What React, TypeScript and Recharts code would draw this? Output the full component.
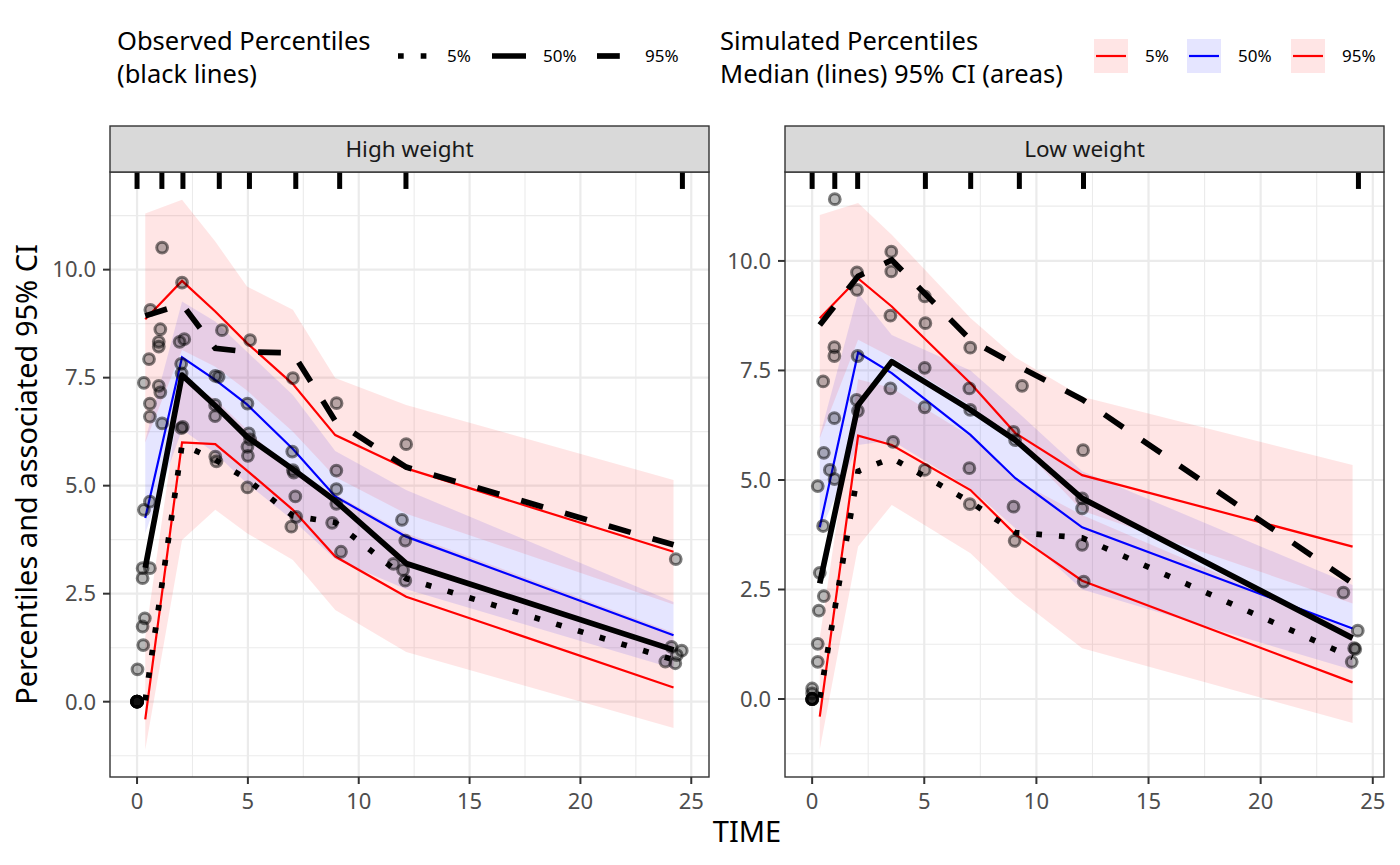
import React from 'react';
import {
  ComposedChart,
  XAxis,
  YAxis,
  Line,
  Area,
  Scatter,
  CartesianGrid,
  ReferenceLine,
} from 'recharts';

const FONT = '"Noto Sans", sans-serif';

const xBreaks = [0, 5, 10, 15, 20, 25];
const xMinor = [2.5, 7.5, 12.5, 17.5, 22.5];
const yBreaks = [0, 2.5, 5, 7.5, 10];
const yMinor = [-1.25, 1.25, 3.75, 6.25, 8.75, 11.25];

// High weight panel
const highTime = [0.37, 2.03, 3.53, 4.96, 7.03, 8.94, 12.14, 24.2];
const highSim5 = [-0.41, 6.0, 5.96, 5.35, 4.44, 3.36, 2.43, 0.33];
const highSim50 = [4.25, 7.97, 7.45, 6.88, 5.85, 4.75, 3.82, 1.54];
const highSim95 = [8.85, 9.74, 9.03, 8.3, 7.35, 6.17, 5.4, 3.47];
const highObs5 = [0.03, 5.95, 5.6, 5.15, 4.3, 4.15, 2.85, 0.97];
const highObs50 = [3.1, 7.56, 6.85, 6.13, 5.38, 4.65, 3.2, 1.2];
const highObs95 = [8.93, 9.2, 8.18, 8.1, 8.07, 6.5, 5.43, 3.63];
const highCi5Lo = [-1.11, 3.74, 4.44, 3.9, 3.28, 2.12, 1.15, -0.61];
const highCi5Hi = [1.5, 7.44, 7.0, 6.3, 5.3, 4.8, 3.9, 1.6];
const highCi50Lo = [3.9, 6.3, 5.75, 5.05, 4.2, 3.3, 2.6, 0.77];
const highCi50Hi = [6.05, 9.26, 8.8, 8.1, 7.1, 5.8, 4.9, 2.31];
const highCi95Lo = [6.0, 8.14, 7.75, 7.2, 6.25, 5.2, 4.35, 2.25];
const highCi95Hi = [11.3, 11.62, 10.65, 9.61, 9.07, 7.49, 6.87, 5.13];
const highRug = [0, 1.12, 2.07, 3.71, 5.07, 7.16, 9.14, 12.13, 24.6];
const highDvTime = [
  0, 0, 0, 0, 0, 0, 0, 0, 0.02, 0.28, 0.25, 0.35, 0.25, 0.25, 0.58, 0.31, 0.58,
  0.58, 0.58, 1.13, 0.31, 0.98, 1.05, 0.54, 0.98, 0.98, 1.05, 0.6, 1.13, 2.03,
  1.92, 2.13, 1.99, 2.01, 2.0, 2.06, 3.83, 3.53, 3.68, 3.52, 3.52, 3.53, 3.58,
  5.1, 4.98, 5.04, 5.1, 4.98, 5.0, 4.98, 7.03, 7.0, 7.03, 7.07, 7.14, 7.18, 6.96,
  9.0, 8.99, 8.99, 8.99, 8.8, 9.2, 12.14, 11.95, 12.1, 11.57, 12.0, 12.1, 24.3,
  24.11, 24.57, 24.35, 23.83, 24.28,
];
const highDv = [
  0, 0, 0, 0, 0, 0, 0, 0, 0.75, 1.31, 1.74, 1.93, 2.86, 3.09, 3.09, 4.44, 4.63,
  6.6, 6.9, 6.44, 7.38, 7.31, 7.16, 7.93, 8.22, 8.33, 8.62, 9.07, 10.51, 9.7,
  8.33, 8.39, 7.82, 7.6, 6.33, 6.36, 8.6, 7.54, 7.52, 6.87, 6.61, 5.67, 5.56,
  8.37, 6.9, 6.21, 6.07, 5.9, 5.69, 4.96, 7.49, 5.79, 5.36, 5.3, 4.75, 4.28, 4.05,
  6.91, 5.35, 4.92, 4.58, 4.14, 3.47, 5.96, 4.21, 3.73, 3.19, 3.05, 2.8, 3.3,
  1.27, 1.18, 1.08, 0.93, 0.89,
];

// Low weight panel
const lowTime = [0.34, 2.05, 3.55, 7.06, 9.06, 12.04, 24.1];
const lowSim5 = [-0.4, 6.01, 5.8, 4.77, 3.76, 2.7, 0.38];
const lowSim50 = [3.92, 7.91, 7.44, 6.03, 5.04, 3.92, 1.61];
const lowSim95 = [8.69, 9.6, 8.96, 7.21, 6.07, 5.11, 3.48];
const lowObs5 = [0.03, 5.2, 5.5, 4.5, 3.8, 3.68, 0.95];
const lowObs50 = [2.64, 6.71, 7.7, 6.6, 5.91, 4.58, 1.39];
const lowObs95 = [8.54, 9.65, 10.02, 8.2, 7.63, 6.84, 2.64];
const lowCi5Lo = [-1.15, 3.48, 4.43, 3.33, 2.34, 1.16, -0.55];
const lowCi5Hi = [1.4, 7.3, 7.1, 6.0, 5.0, 4.2, 1.55];
const lowCi50Lo = [3.8, 5.8, 5.9, 4.8, 3.9, 2.5, 0.66];
const lowCi50Hi = [6.0, 9.26, 8.31, 7.5, 6.6, 5.2, 2.6];
const lowCi95Lo = [5.95, 8.2, 7.8, 6.7, 5.9, 4.3, 2.18];
const lowCi95Hi = [11.05, 11.32, 10.6, 8.7, 7.8, 6.9, 5.34];
const lowRug = [0, 1.01, 2.03, 5.05, 7.07, 9.24, 12.1, 24.36];
const lowDvTime = [
  0, 0, 0, 0, 0, 0, 0, 0.25, 0.25, 0.3, 0.52, 0.34, 0.49, 0.25, 1.0, 0.79, 0.52,
  0.99, 0.49, 0.99, 0.99, 1.01, 2.0, 2.0, 2.03, 1.98, 2.04, 3.53, 3.53, 3.49,
  3.49, 3.61, 5.02, 5.05, 5.02, 5.02, 5.02, 7.05, 7.01, 7.05, 7.01, 7.03, 9.36,
  8.98, 9.05, 8.98, 9.03, 12.08, 12.04, 12.04, 12.04, 12.11, 23.69, 24.33, 24.17,
  24.22, 24.06,
];
const lowDv = [
  0, 0, 0, 0, 0, 0.13, 0.24, 0.85, 1.26, 2.02, 2.35, 2.88, 3.95, 4.86, 5.02, 5.23,
  5.62, 6.41, 7.25, 7.83, 8.03, 11.41, 9.74, 9.34, 7.83, 6.83, 6.58, 10.21, 9.76,
  8.75, 7.09, 5.87, 9.19, 8.58, 7.56, 6.66, 5.23, 8.02, 7.09, 6.6, 5.27, 4.45,
  7.15, 6.1, 5.91, 4.39, 3.61, 5.68, 4.58, 4.35, 3.52, 2.68, 2.43, 1.56, 1.16,
  1.14, 0.85,
];

function buildRows(time, s5, s50, s95, o5, o50, o95, c5l, c5h, c50l, c50h, c95l, c95h) {
  return time.map((t, i) => ({
    time: t,
    sim5: s5[i],
    sim50: s50[i],
    sim95: s95[i],
    obs5: o5[i],
    obs50: o50[i],
    obs95: o95[i],
    ci5: [c5l[i], c5h[i]],
    ci50: [c50l[i], c50h[i]],
    ci95: [c95l[i], c95h[i]],
  }));
}

const highRows = buildRows(
  highTime, highSim5, highSim50, highSim95, highObs5, highObs50, highObs95,
  highCi5Lo, highCi5Hi, highCi50Lo, highCi50Hi, highCi95Lo, highCi95Hi
);
const lowRows = buildRows(
  lowTime, lowSim5, lowSim50, lowSim95, lowObs5, lowObs50, lowObs95,
  lowCi5Lo, lowCi5Hi, lowCi50Lo, lowCi50Hi, lowCi95Lo, lowCi95Hi
);
const highPoints = highDvTime.map((t, i) => ({ time: t, dv: highDv[i] }));
const lowPoints = lowDvTime.map((t, i) => ({ time: t, dv: lowDv[i] }));

const dotShape = (p: any) => (
  <circle
    cx={p.cx}
    cy={p.cy}
    r={5.4}
    fill="rgba(0,0,0,0.28)"
    stroke="rgba(0,0,0,0.5)"
    strokeWidth={3}
  />
);

const tickStyle = { fill: '#4d4d4d', fontSize: 22, fontFamily: FONT };
const OBS_W = 5.7;

function Panel({ rows, points, rug, xDomain, yDomain, left }: any) {
  const rugEnd = yDomain[1] - (yDomain[1] - yDomain[0]) * 0.028;
  return (
    <div style={{ position: 'absolute', left, top: 172 }}>
      <ComposedChart
        width={720}
        height={645}
        data={rows}
        margin={{ top: 0, right: 11, bottom: 0, left: 0 }}
      >
        <CartesianGrid
          stroke="#ebebeb"
          strokeWidth={1.1}
          horizontalValues={yMinor}
          verticalValues={xMinor}
        />
        <CartesianGrid
          stroke="#ebebeb"
          strokeWidth={2.2}
          horizontalValues={yBreaks}
          verticalValues={xBreaks}
        />
        <XAxis
          type="number"
          dataKey="time"
          domain={xDomain}
          allowDataOverflow
          ticks={xBreaks}
          interval={0}
          height={40}
          axisLine={false}
          tickSize={7}
          tickMargin={9}
          tickLine={{ stroke: '#333333', strokeWidth: 2 }}
          tick={tickStyle}
        />
        <YAxis
          type="number"
          domain={yDomain}
          allowDataOverflow
          ticks={yBreaks}
          interval={0}
          width={110}
          axisLine={false}
          tickSize={7}
          tickMargin={7}
          tickLine={{ stroke: '#333333', strokeWidth: 2 }}
          tick={tickStyle}
          tickFormatter={(v: number) => v.toFixed(1)}
        />
        <Area type="linear" dataKey="ci5" stroke="none" fill="#ff0000" fillOpacity={0.1} dot={false} activeDot={false} isAnimationActive={false} />
        <Area type="linear" dataKey="ci50" stroke="none" fill="#0000ff" fillOpacity={0.1} dot={false} activeDot={false} isAnimationActive={false} />
        <Area type="linear" dataKey="ci95" stroke="none" fill="#ff0000" fillOpacity={0.1} dot={false} activeDot={false} isAnimationActive={false} />
        <Line type="linear" dataKey="sim5" stroke="#ff0000" strokeWidth={2.2} dot={false} activeDot={false} isAnimationActive={false} />
        <Line type="linear" dataKey="sim50" stroke="#0000ff" strokeWidth={2.2} dot={false} activeDot={false} isAnimationActive={false} />
        <Line type="linear" dataKey="sim95" stroke="#ff0000" strokeWidth={2.2} dot={false} activeDot={false} isAnimationActive={false} />
        <Scatter data={points} dataKey="dv" shape={dotShape} isAnimationActive={false} />
        <Line type="linear" dataKey="obs5" stroke="#000" strokeWidth={OBS_W} strokeDasharray="5.7 17" dot={false} activeDot={false} isAnimationActive={false} />
        <Line type="linear" dataKey="obs50" stroke="#000" strokeWidth={OBS_W} strokeLinejoin="round" dot={false} activeDot={false} isAnimationActive={false} />
        <Line type="linear" dataKey="obs95" stroke="#000" strokeWidth={OBS_W} strokeDasharray="22.8 22.8" dot={false} activeDot={false} isAnimationActive={false} />
        {rug.map((t: number) => (
          <ReferenceLine
            key={t}
            segment={[{ x: t, y: yDomain[1] }, { x: t, y: rugEnd }]}
            stroke="#000"
            strokeWidth={5}
            ifOverflow="visible"
          />
        ))}
      </ComposedChart>
    </div>
  );
}

export default function App() {
  return (
    <div
      style={{
        position: 'relative',
        width: 1400,
        height: 865,
        background: '#fff',
        fontFamily: FONT,
      }}
    >
      <style>{'body{margin:0}'}</style>
      <Panel rows={highRows} points={highPoints} rug={highRug} xDomain={[-1.22, 25.8]} yDomain={[-1.743, 12.26]} left={0} />
      <Panel rows={lowRows} points={lowPoints} rug={lowRug} xDomain={[-1.21, 25.5]} yDomain={[-1.78, 12.03]} left={675} />
      <svg
        width={1400}
        height={865}
        style={{ position: 'absolute', left: 0, top: 0, pointerEvents: 'none' }}
        fontFamily={FONT}
      >
        {/* panel borders and strips */}
        <rect x={110} y={172} width={599} height={605} fill="none" stroke="#333" strokeWidth={1.4} />
        <rect x={785} y={172} width={599} height={605} fill="none" stroke="#333" strokeWidth={1.4} />
        <rect x={110} y={126} width={599} height={46} fill="#d9d9d9" stroke="#333" strokeWidth={1.4} />
        <rect x={785} y={126} width={599} height={46} fill="#d9d9d9" stroke="#333" strokeWidth={1.4} />
        <text x={409.5} y={157} textAnchor="middle" fontSize={22.5} fill="#1a1a1a">High weight</text>
        <text x={1084.5} y={157} textAnchor="middle" fontSize={22.5} fill="#1a1a1a">Low weight</text>

        {/* axis titles */}
        <text x={747} y={842} textAnchor="middle" fontSize={29} fill="#000">TIME</text>
        <text
          x={0}
          y={0}
          transform="translate(37,474.5) rotate(-90)"
          textAnchor="middle"
          fontSize={29}
          fill="#000"
        >
          Percentiles and associated 95% CI
        </text>

        {/* observed legend */}
        <text x={117} y={50} fontSize={25.5} fill="#000">Observed Percentiles</text>
        <text x={117} y={83} fontSize={25.5} fill="#000">(black lines)</text>
        <line x1={398} y1={56} x2={432} y2={56} stroke="#000" strokeWidth={OBS_W} strokeDasharray="5.7 17" />
        <text x={447} y={62} fontSize={17} fill="#000">5%</text>
        <line x1={492} y1={56} x2={526} y2={56} stroke="#000" strokeWidth={OBS_W} />
        <text x={543} y={62} fontSize={17} fill="#000">50%</text>
        <line x1={597} y1={56} x2={631} y2={56} stroke="#000" strokeWidth={OBS_W} strokeDasharray="22.8 22.8" />
        <text x={645} y={62} fontSize={17} fill="#000">95%</text>

        {/* simulated legend */}
        <text x={720} y={50} fontSize={25.5} fill="#000">Simulated Percentiles</text>
        <text x={720} y={83} fontSize={25.5} fill="#000">Median (lines) 95% CI (areas)</text>
        <rect x={1094} y={39} width={34} height={34} fill="#ff0000" fillOpacity={0.1} />
        <line x1={1096} y1={56} x2={1126} y2={56} stroke="#ff0000" strokeWidth={2.2} />
        <text x={1145} y={62} fontSize={17} fill="#000">5%</text>
        <rect x={1187} y={39} width={34} height={34} fill="#0000ff" fillOpacity={0.1} />
        <line x1={1189} y1={56} x2={1219} y2={56} stroke="#0000ff" strokeWidth={2.2} />
        <text x={1238} y={62} fontSize={17} fill="#000">50%</text>
        <rect x={1291} y={39} width={34} height={34} fill="#ff0000" fillOpacity={0.1} />
        <line x1={1293} y1={56} x2={1323} y2={56} stroke="#ff0000" strokeWidth={2.2} />
        <text x={1342} y={62} fontSize={17} fill="#000">95%</text>
      </svg>
    </div>
  );
}
